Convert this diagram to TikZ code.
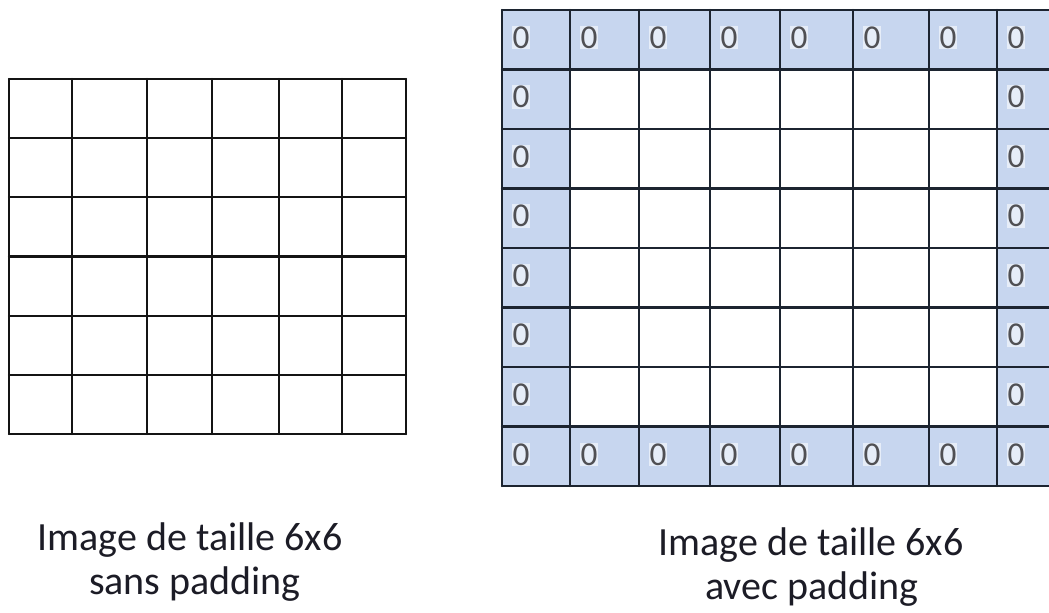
\documentclass[tikz,border=0pt]{standalone}
\usepackage{fontspec}
\setmainfont{Carlito}
\definecolor{padblue}{RGB}{199,214,239}
\definecolor{rightline}{RGB}{28,36,48}
\definecolor{leftline}{RGB}{20,20,20}
\definecolor{zerogray}{RGB}{80,80,84}
\definecolor{captext}{RGB}{28,28,38}
\tikzset{
  leftpen/.style={draw=leftline, line width=1.7pt, line cap=round},
  rightpen/.style={draw=rightline, line width=1.7pt, line cap=round},
  zero/.style={font=\fontsize{25}{26}\selectfont, text=zerogray, fill=white!55!padblue, inner sep=0.5pt},
  caption/.style={font=\fontsize{30}{36}\selectfont, text=captext, anchor=base, inner sep=0pt}
}
\begin{document}
\begin{tikzpicture}[x=0.75pt,y=-0.75pt]
\useasboundingbox (0,0) rectangle (1049,613);
\clip (0,0) rectangle (1049,613);
\fill[white] (0,0) rectangle (1049,613);

% ---------- left grid (6x6, no padding) ----------
\foreach \x in {9,72,147,212,279,342,406} {
  \draw[leftpen] (\x,79) -- (\x,434);
}
\foreach \i in {0,...,6} {
  \pgfmathsetmacro\yy{79+\i*59.1667}
  \draw[leftpen] (9,\yy) -- (406,\yy);
}

% ---------- right grid (8x8, with padding) ----------
\fill[padblue] (502,10) rectangle (1065,69.5);
\fill[padblue] (502,426.5) rectangle (1065,486);
\fill[padblue] (502,10) rectangle (570,486);
\fill[padblue] (997,10) rectangle (1065,486);
\foreach \x in {502,570,639,710,780,853,929,997} {
  \draw[rightpen] (\x,10) -- (\x,486);
}
\foreach \i in {0,...,8} {
  \pgfmathsetmacro\yy{10+\i*59.5}
  \draw[rightpen] (502,\yy) -- (1065,\yy);
}

% zeros
\foreach \x [count=\c] in {502,570,639,710,780,853,929,997} {
  \node[zero] (zt\c) at (\x+19,37.5) {0};
  \node[zero] (zb\c) at (\x+19,454.5) {0};
}
\foreach \r in {1,...,6} {
  \pgfmathsetmacro\yy{10+\r*59.5+27.5}
  \node[zero] (zl\r) at (521,\yy) {0};
  \node[zero] (zr\r) at (1016,\yy) {0};
}

% ---------- captions ----------
\node[caption] (capL1) at (190,550) {Image de taille 6x6};
\node[caption] (capL2) at (195,594) {sans padding};
\node[caption] (capR1) at (811,555) {Image de taille 6x6};
\node[caption] (capR2) at (812,599) {avec padding};
\end{tikzpicture}
\end{document}
